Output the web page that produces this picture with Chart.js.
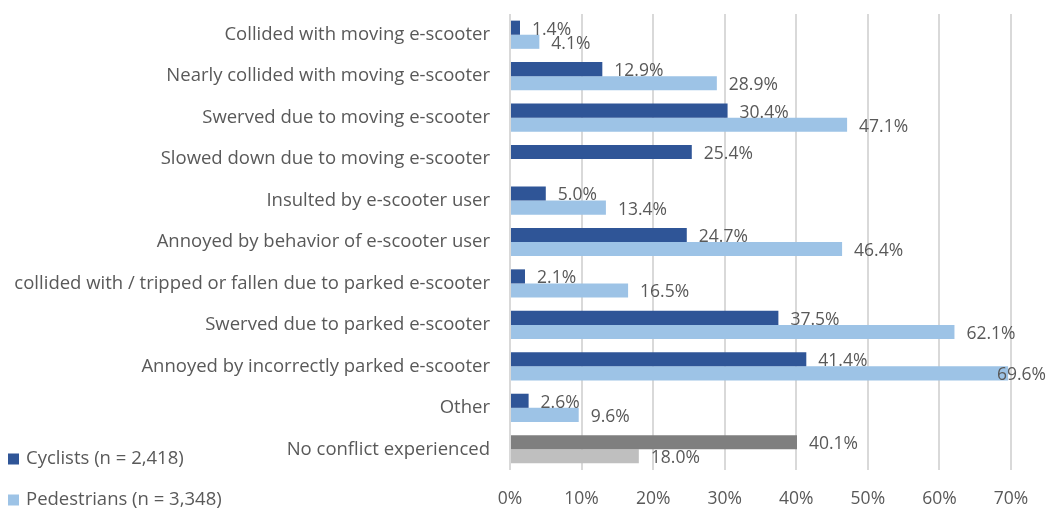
<!DOCTYPE html>
<html>
<head>
<meta charset="utf-8">
<script src="https://cdn.jsdelivr.net/npm/chart.js@4/dist/chart.umd.min.js"></script>
<style>
  html, body { margin: 0; padding: 0; background: #ffffff; }
  #wrap { width: 1048px; height: 509px; position: relative; }
</style>
</head>
<body>
<div id="wrap"><canvas id="c" width="1048" height="509"></canvas></div>
<script>
const categories = [
  "Collided with moving e-scooter",
  "Nearly collided with moving e-scooter",
  "Swerved due to moving e-scooter",
  "Slowed down due to moving e-scooter",
  "Insulted by e-scooter user",
  "Annoyed by behavior of e-scooter user",
  "collided with / tripped or fallen due to parked e-scooter",
  "Swerved due to parked e-scooter",
  "Annoyed by incorrectly parked e-scooter",
  "Other",
  "No conflict experienced"
];
const cyclists = [1.4, 12.9, 30.4, 25.4, 5.0, 24.7, 2.1, 37.5, 41.4, 2.6, 40.1];
const pedestrians = [4.1, 28.9, 47.1, null, 13.4, 46.4, 16.5, 62.1, 69.6, 9.6, 18.0];
const seriesLabels = ["Cyclists (n = 2,418)", "Pedestrians (n = 3,348)"];
const xTicks = [0, 10, 20, 30, 40, 50, 60, 70];
const highlightCategory = "No conflict experienced";

const FONT = "'Open Sans', sans-serif";
const TEXT = "#595959";
const DARK = "#2F5597", LIGHT = "#9DC3E6";
const DARK_GRAY = "#7F7F7F", LIGHT_GRAY = "#BFBFBF";

const cycColors = categories.map(c => c === highlightCategory ? DARK_GRAY : DARK);
const pedColors = categories.map(c => c === highlightCategory ? LIGHT_GRAY : LIGHT);

const labelPlugin = {
  id: 'valueLabels',
  afterDatasetsDraw(chart) {
    const ctx = chart.ctx;
    ctx.save();
    ctx.font = "17.5px " + FONT;
    ctx.fillStyle = TEXT;
    ctx.textAlign = 'left';
    ctx.textBaseline = 'middle';
    chart.data.datasets.forEach((ds, di) => {
      const meta = chart.getDatasetMeta(di);
      meta.data.forEach((el, i) => {
        const v = ds.data[i];
        if (v === null || v === undefined) return;
        const txt = v.toFixed(1) + '%';
        const w = ctx.measureText(txt).width;
        let x = el.x + 12;
        if (x + w > chart.width - 2) x = chart.width - 2 - w;
        ctx.fillText(txt, x, el.y + 2);
      });
    });
    ctx.restore();
  }
};

const legendPlugin = {
  id: 'customLegend',
  afterDraw(chart) {
    const ctx = chart.ctx;
    ctx.save();
    ctx.font = "18.5px " + FONT;
    ctx.textBaseline = 'middle';
    ctx.textAlign = 'left';
    const ys = [459, 500];
    chart.data.datasets.forEach((ds, di) => {
      const y = ys[di];
      ctx.fillStyle = di === 0 ? DARK : LIGHT;
      ctx.fillRect(8, y - 5.5, 11, 11);
      ctx.fillStyle = TEXT;
      ctx.fillText(ds.label, 26, y);
    });
    ctx.restore();
  }
};

new Chart(document.getElementById('c'), {
  type: 'bar',
  data: {
    labels: categories,
    datasets: [
      { label: seriesLabels[0], data: cyclists, backgroundColor: cycColors, categoryPercentage: 0.68, barPercentage: 1.0 },
      { label: seriesLabels[1], data: pedestrians, backgroundColor: pedColors, categoryPercentage: 0.68, barPercentage: 1.0 }
    ]
  },
  options: {
    indexAxis: 'y',
    responsive: false,
    animation: false,
    layout: { padding: { top: 14, right: 37, bottom: 0, left: 0 } },
    plugins: { legend: { display: false }, tooltip: { enabled: false } },
    scales: {
      x: {
        type: 'linear',
        min: 0, max: 70,
        afterBuildTicks(scale) { scale.ticks = xTicks.map(v => ({ value: v })); },
        afterFit(scale) { scale.paddingLeft = 0; scale.paddingRight = 0; scale.height = 39; },
        ticks: { callback: v => v + '%', color: TEXT, font: { family: FONT, size: 17.5 }, padding: 19 },
        grid: { color: '#D9D9D9', lineWidth: 2, drawTicks: false },
        border: { display: false }
      },
      y: {
        afterFit(scale) { scale.width = 510; scale.paddingTop = 0; scale.paddingBottom = 0; },
        ticks: { color: TEXT, font: { family: FONT, size: 18.5 }, padding: 0, autoSkip: false },
        grid: { display: false, drawTicks: true, tickLength: 20 },
        border: { display: false }
      }
    }
  },
  plugins: [labelPlugin, legendPlugin]
});
</script>
</body>
</html>
